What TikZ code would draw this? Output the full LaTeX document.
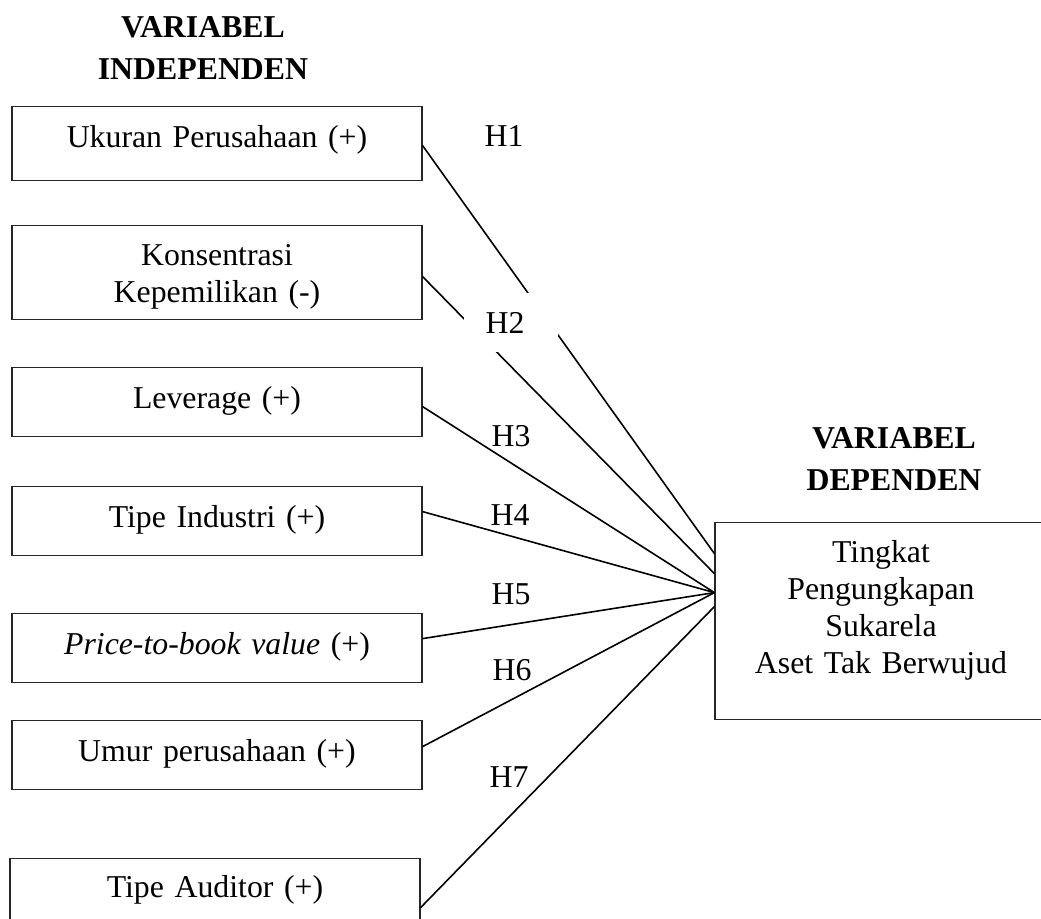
\documentclass[tikz,border=0pt]{standalone}
\usepackage{fontspec}
\setmainfont{Liberation Serif}
\usetikzlibrary{calc}
\begin{document}
\begin{tikzpicture}[x=0.5pt,y=-0.5pt,
  every node/.style={font=\fontsize{15.9}{18.5}\selectfont},
  ivbox/.style 2 args={draw=black!85, line width=0.6pt, anchor=north, inner sep=0pt,
    text width=205pt, align=center, text height=#1, text depth=#2},
  dvbox/.style={draw=black!85, line width=0.6pt, anchor=north, inner sep=0pt,
    text width=166pt, align=center, text height=20pt, text depth=78.5pt},
  heading/.style={anchor=base, inner sep=0pt, text width=140pt, align=center,
    font=\fontsize{15.9}{21}\selectfont\bfseries},
  hyp/.style={anchor=base, inner sep=0pt},
  link/.style={line width=0.8pt, black}]
\useasboundingbox (0,0) rectangle (1041,918);
\clip (0,0) rectangle (1041,918);

% headings
\node[heading] (hi) at (203,37) {VARIABEL\\INDEPENDEN};
\node[heading] (hd) at (894,448) {VARIABEL\\DEPENDEN};

% independent variable boxes
\node[ivbox={20.5pt}{16.5pt}] (b1) at (217,106) {Ukuran Perusahaan (+)};
\node[ivbox={20pt}{27pt}] (b2) at (217,225) {Konsentrasi\\Kepemilikan (-)};
\node[ivbox={20.5pt}{14pt}] (b3) at (217,367) {Leverage (+)};
\node[ivbox={20.5pt}{14pt}] (b4) at (217,486) {Tipe Industri (+)};
\node[ivbox={20.5pt}{14pt}] (b5) at (217,613) {\textit{Price-to-book value} (+)};
\node[ivbox={20.5pt}{14pt}] (b6) at (217,720) {Umur perusahaan (+)};
\node[ivbox={19.5pt}{15.5pt}] (b7) at (215,858) {Tipe Auditor (+)};

% dependent variable box
\node[dvbox] (d) at (881,522) {Tingkat\\Pengungkapan\\Sukarela\\Aset Tak Berwujud};

% connectors
\draw[link] ($(b1.east)+(0,2)$) -- ($(d.west)+(0,-67.5)$);
\draw[link] ($(b2.east)+(0,4)$) -- ($(d.west)+(0,-47.5)$);
\draw[link] ($(b3.east)+(0,4.5)$) -- ($(d.west)+(0,-28.5)$);
\draw[link] ($(b4.east)+(0,-9.5)$) -- ($(d.west)+(0,-28.5)$);
\draw[link] ($(b5.east)+(0,-9.5)$) -- ($(d.west)+(0,-28.5)$);
\draw[link] ($(b6.east)+(0,-8.5)$) -- ($(d.west)+(0,-28.5)$);
\draw[link] ($(b7.east)+(0,14)$) -- ($(d.west)+(0,-14.5)$);

% hypothesis labels
\node[hyp] (h1) at (504,146) {H1};
\fill[white] (464,293) rectangle (558,352);
\node[hyp] (h2) at (505,333) {H2};
\node[hyp] (h3) at (511,446) {H3};
\node[hyp] (h4) at (510,525) {H4};
\node[hyp] (h5) at (511,604) {H5};
\node[hyp] (h6) at (512,680) {H6};
\node[hyp] (h7) at (509,787) {H7};
\end{tikzpicture}
\end{document}
